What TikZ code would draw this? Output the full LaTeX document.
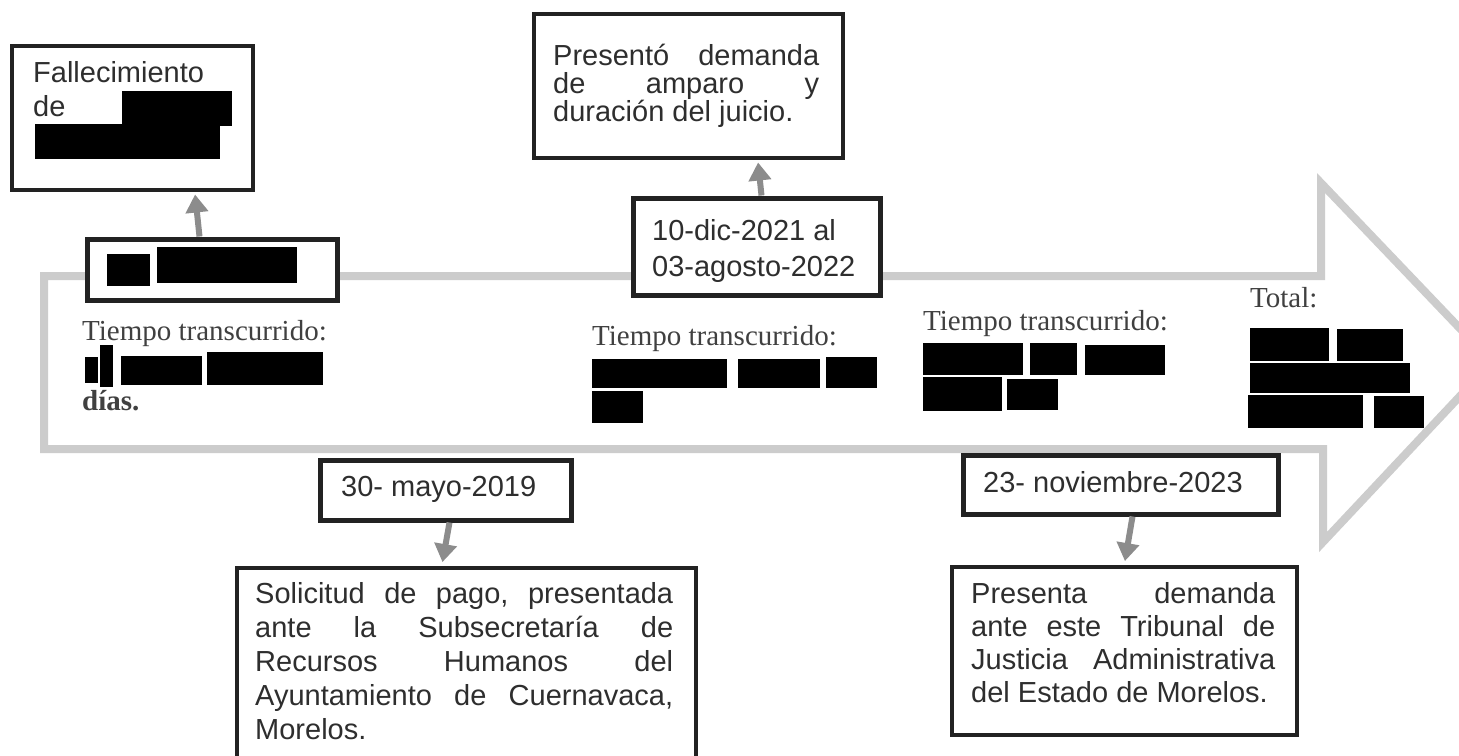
\documentclass[tikz,border=0pt]{standalone}
\usepackage{fontspec}
\usetikzlibrary{arrows.meta}
\newfontfamily\sansf{Liberation Sans}
\newfontfamily\seriff{Liberation Serif}
\definecolor{arrowgray}{HTML}{CCCCCC}
\definecolor{conngray}{HTML}{8C8C8C}
\definecolor{boxline}{HTML}{222222}
\definecolor{txtc}{HTML}{2E2E2E}
\definecolor{serifc}{HTML}{404040}
\newcommand\stk[1]{\vtop{\lineskiplimit=-100pt\relax #1}}
\newcommand\jl[2]{\hbox to #1{#2}}
\newcommand\txline[1]{\hbox{#1}}
\begin{document}
\begin{tikzpicture}[x=1pt,y=-1pt,
  bigbox/.style={draw=boxline,line width=3.5pt,fill=white,inner sep=0pt,anchor=north west},
  datebox/.style={bigbox,line width=5pt},
  sanstext/.style={font=\sansf\fontsize{29}{34}\selectfont,text=txtc,inner sep=0pt,anchor=base west},
  seriftext/.style={font=\seriff\fontsize{29}{34}\selectfont,text=serifc,inner sep=0pt,anchor=base west},
  redact/.style={fill=black},
  conn/.style={draw=conngray,line width=6pt,-{Triangle[length=18pt,width=22pt]}},
  timeline/.style={draw=arrowgray,line width=8pt,line join=miter}]
\clip (0,0) rectangle (1459,755);
\fill[white] (0,0) rectangle (1459,755);
% big timeline arrow
\draw[timeline] (44,276) -- (1321,276) -- (1321,183) -- (1492,362) -- (1323,542) -- (1323,449) -- (44,449) -- cycle;

% boxes
\node[bigbox,minimum width=241pt,minimum height=144pt] (fall) at (10,44) {};
\node[datebox,minimum width=250pt,minimum height=61pt] (date1) at (84.5,236.5) {};
\node[bigbox,minimum width=309pt,minimum height=144pt] (presento) at (532,12) {};
\node[datebox,minimum width=247pt,minimum height=97pt] (date2) at (630.5,195.5) {};
\node[datebox,minimum width=251pt,minimum height=60pt] (date3) at (317.5,457.5) {};
\node[bigbox,minimum width=459pt,minimum height=214pt] (solic) at (235,566) {};
\node[datebox,minimum width=315pt,minimum height=59pt] (date4) at (960.5,452.5) {};
\node[bigbox,minimum width=345pt,minimum height=168pt] (presenta) at (950,565) {};

% box texts
\node[sanstext] (tfall) at (33,82) {\stk{\txline{Fallecimiento}\txline{de}}};
\fill[redact] (122,91) rectangle (232,126);
\fill[redact] (35,124) rectangle (220,159);

\fill[redact] (107,254) rectangle (150,286);
\fill[redact] (157,247) rectangle (297,283);

\node[sanstext,font=\sansf\fontsize{29}{28}\selectfont] (tpresento) at (553,65)
  {\stk{\jl{266pt}{Presentó\hfill demanda}\jl{266pt}{de\hfill amparo\hfill y}\txline{duración del juicio.}}};

\node[sanstext,font=\sansf\fontsize{29}{36}\selectfont] (tdate2) at (652,240)
  {\stk{\txline{10-dic-2021 al}\txline{03-agosto-2022}}};

\node[sanstext] (tdate3) at (341,496) {30- mayo-2019};

\node[sanstext] (tsolic) at (255,603)
  {\stk{\jl{418pt}{Solicitud\hfill de\hfill pago,\hfill presentada}%
        \jl{418pt}{ante\hfill la\hfill Subsecretaría\hfill de}%
        \jl{418pt}{Recursos\hfill Humanos\hfill del}%
        \jl{418pt}{Ayuntamiento\hfill de\hfill Cuernavaca,}%
        \txline{Morelos.}}};

\node[sanstext] (tdate4) at (983,492) {23- noviembre-2023};

\node[sanstext,font=\sansf\fontsize{29}{33.3}\selectfont] (tpresenta) at (971,603)
  {\stk{\jl{304pt}{Presenta\hfill demanda}%
        \jl{304pt}{ante\hfill este\hfill Tribunal\hfill de}%
        \jl{304pt}{Justicia\hfill Administrativa}%
        \txline{del Estado de Morelos.}}};

% elapsed-time texts
\node[seriftext] (tt1) at (82,340) {Tiempo transcurrido:};
\fill[redact] (85,357) rectangle (98,383);
\fill[redact] (100,345) rectangle (113,387);
\fill[redact] (121,356) rectangle (202,385);
\fill[redact] (207,352) rectangle (323,385);
\node[seriftext,font=\seriff\bfseries\fontsize{29}{34}\selectfont] (dias) at (82,410) {días.};

\node[seriftext] (tt2) at (592,345) {Tiempo transcurrido:};
\fill[redact] (592,359) rectangle (727,388);
\fill[redact] (738,359) rectangle (820,388);
\fill[redact] (826,357) rectangle (877,388);
\fill[redact] (592,391) rectangle (643,423);

\node[seriftext] (tt3) at (923,330) {Tiempo transcurrido:};
\fill[redact] (923,343) rectangle (1023,375);
\fill[redact] (1030,343) rectangle (1077,375);
\fill[redact] (1085,345) rectangle (1165,375);
\fill[redact] (923,377) rectangle (1002,411);
\fill[redact] (1007,379) rectangle (1058,410);

\node[seriftext] (total) at (1250,307) {Total:};
\fill[redact] (1250,328) rectangle (1329,361);
\fill[redact] (1337,329) rectangle (1403,361);
\fill[redact] (1250,363) rectangle (1410,393);
\fill[redact] (1248,395) rectangle (1363,428);
\fill[redact] (1374,396) rectangle (1424,428);

% connectors
\draw[conn,shorten >=3pt] ([xshift=-12.5pt]date1.north) -- ([xshift=62.5pt]fall.south);
\draw[conn,shorten >=3pt] ([xshift=5pt]date2.north) -- ([xshift=69.5pt]presento.south);
\draw[conn,shorten >=4pt] ([xshift=4pt]date3.south) -- ([xshift=-24.5pt]solic.north);
\draw[conn,shorten >=4pt] ([xshift=12pt]date4.south) -- (presenta.north);
\end{tikzpicture}
\end{document}
